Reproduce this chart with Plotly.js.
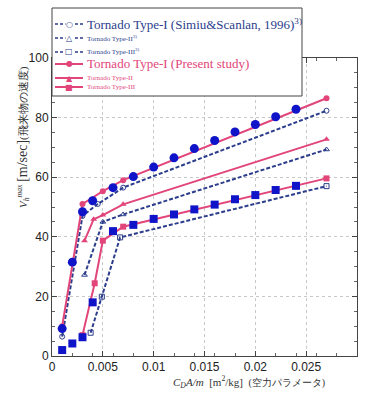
<!DOCTYPE html>
<html><head><meta charset="utf-8">
<script src="https://cdn.plot.ly/plotly-3.0.1.min.js"></script>
<style>html,body{margin:0;padding:0;background:#fff}</style>
</head><body><div id="chart" style="width:369px;height:400px"></div>
<script>
// Simiu & Scanlan (1996) - dashed navy
const simiu1X = [0.001, 0.003, 0.0045, 0.007, 0.027];
const simiu1Y = [6.5, 47, 51, 56.5, 82.3];
const simiu2X = [0.0032, 0.005, 0.007, 0.027];
const simiu2Y = [27.2, 45, 47.5, 69.3];
const simiu3X = [0.0038, 0.0049, 0.0067, 0.027];
const simiu3Y = [7.8, 19.9, 39.8, 57.0];
// Present study - pink
const present1X = [0.001, 0.003, 0.005, 0.007, 0.027];
const present1Y = [10, 51, 55.3, 59, 86.5];
const present2X = [0.0032, 0.0041, 0.005, 0.007, 0.027];
const present2Y = [38.7, 45.9, 47.3, 50.9, 72.7];
const present3X = [0.003, 0.0042, 0.005, 0.007, 0.027];
const present3Y = [7, 24.4, 38.7, 43.4, 59.6];
// Blue marker data
const circX = [0.001,0.002,0.003,0.004,0.006,0.008,0.010,0.012,0.014,0.016,0.018,0.020,0.022,0.024];
const circY = [9.2,31.5,48.4,52.1,56.5,60.2,63.4,66.5,69.6,72.3,75.2,77.7,80.3,82.8];
const sqX = [0.001,0.002,0.003,0.004,0.006,0.008,0.010,0.012,0.014,0.016,0.018,0.020,0.022,0.024];
const sqY = [2.0,4.2,6.3,18.0,41.9,44.0,46.0,47.5,49.2,50.8,52.6,54.0,55.7,57.1];

// Legend labels
const legendNames = [
  'Tornado Type-I (Simiu&amp;Scanlan, 1996)<sup>3)</sup>',
  'Tornado Type-II<sup>3)</sup>',
  'Tornado Type-III<sup>3)</sup>',
  'Tornado Type-I (Present study)',
  'Tornado Type-II',
  'Tornado Type-III'
];
const legendSymbols = ['○', '△', '□', '●', '▲', '■'];
const xTicks = [0, 0.005, 0.01, 0.015, 0.02, 0.025, 0.03];
const xTickText = ['0','0.005','0.01','0.015','0.02','0.025','0.03'];
const yTicks = [0, 20, 40, 60, 80, 100];

const NAVY = '#2b3d8c', PINK = '#e2457a', BLUE = '#0f14c8';
const DASH = '4px,2px';

const traces = [
  {x: simiu1X, y: simiu1Y, mode: 'lines+markers',
   line: {color: NAVY, width: 2, dash: DASH}, marker: {symbol: 'circle-open', size: 5, color: NAVY}},
  {x: simiu2X, y: simiu2Y, mode: 'lines+markers',
   line: {color: NAVY, width: 2, dash: DASH}, marker: {symbol: 'triangle-up-open', size: 5, color: NAVY}},
  {x: simiu3X, y: simiu3Y, mode: 'lines+markers',
   line: {color: NAVY, width: 2, dash: DASH}, marker: {symbol: 'square-open', size: 5, color: NAVY}},
  {x: present1X, y: present1Y, mode: 'lines+markers',
   line: {color: PINK, width: 2}, marker: {symbol: 'circle', size: 6, color: PINK}},
  {x: present2X, y: present2Y, mode: 'lines+markers',
   line: {color: PINK, width: 2}, marker: {symbol: 'triangle-up', size: 6, color: PINK}},
  {x: present3X, y: present3Y, mode: 'lines+markers',
   line: {color: PINK, width: 2}, marker: {symbol: 'square', size: 6, color: PINK}},
  {x: circX, y: circY, mode: 'markers',
   marker: {symbol: 'circle', size: 9, color: BLUE}},
  {x: sqX, y: sqY, mode: 'markers',
   marker: {symbol: 'square', size: 8, color: BLUE}}
];
traces.forEach((t, i) => { t.name = legendNames[i] || ''; t.showlegend = false; });

// legend box built in paper coordinates
const L = 52, T = 58, W = 305, H = 298;
const px = p => (p - L) / W;
const py = p => (T + H - p) / H;
const rowY = [24, 38, 52, 64, 78, 87];
const rowSize = [13, 7, 7, 13, 7, 7];
const shapes = [
  {type: 'rect', xref: 'paper', yref: 'paper', x0: px(52), x1: px(302), y0: py(96), y1: py(8),
   line: {color: '#444', width: 1}, fillcolor: '#fff', layer: 'above'}
];
const annotations = [];
for (let i = 0; i < 6; i++) {
  const col = i < 3 ? NAVY : PINK;
  shapes.push({type: 'line', xref: 'paper', yref: 'paper', x0: px(55), x1: px(83),
    y0: py(rowY[i]), y1: py(rowY[i]), layer: 'above',
    line: {color: col, width: i < 3 ? 1.5 : 2, dash: i < 3 ? '3px,2px' : 'solid'}});
  annotations.push({text: legendSymbols[i], xref: 'paper', yref: 'paper', x: px(69), y: py(rowY[i]),
    xanchor: 'center', yanchor: 'middle', showarrow: false, bgcolor: i < 3 ? '#fff' : 'rgba(0,0,0,0)',
    borderpad: 0,
    font: {family: 'DejaVu Sans', size: 8, color: col}});
  annotations.push({text: legendNames[i], xref: 'paper', yref: 'paper', x: px(85), y: py(rowY[i]),
    xanchor: 'left', yanchor: 'middle', showarrow: false,
    font: {family: 'Liberation Serif, Times New Roman, serif', size: rowSize[i], color: col}});
}
annotations.push(
  {text: '<i>V</i><sub><i>h</i></sub><sup><i>max</i></sup> <span style="font-size:14px">[m/sec]</span>(飛来物の速度)',
   xref: 'paper', yref: 'paper', x: px(23), y: py(137), xanchor: 'center', yanchor: 'middle',
   textangle: -90, showarrow: false,
   font: {family: 'Liberation Serif, serif', size: 11, color: '#333'}},
  {text: '<i>C<sub>D</sub>A/m</i>  [m<sup>2</sup>/kg]  <span style="font-size:10px">(空力パラメータ)</span>',
   xref: 'paper', yref: 'paper', x: px(249), y: py(382), xanchor: 'center', yanchor: 'middle',
   showarrow: false,
   font: {family: 'Liberation Serif, serif', size: 11, color: '#333'}}
);

const axisCommon = {
  showline: true, linecolor: '#444', linewidth: 1, mirror: 'allticks',
  ticks: 'inside', ticklen: 5, tickcolor: '#444',
  showgrid: true, gridcolor: '#c8c8c8', griddash: 'dot', gridwidth: 1,
  zeroline: false,
  tickfont: {family: 'Liberation Sans, Arial, sans-serif', size: 12, color: '#222'},
  minor: {ticks: 'inside', ticklen: 3, tickcolor: '#666', nticks: 5, showgrid: false}
};

const layout = {
  width: 369, height: 400,
  margin: {l: L, r: 369 - L - W, t: T, b: 400 - T - H},
  paper_bgcolor: '#fff', plot_bgcolor: '#fff',
  showlegend: false,
  xaxis: Object.assign({}, axisCommon, {range: [0, 0.03], tickvals: xTicks, ticktext: xTickText}),
  yaxis: Object.assign({}, axisCommon, {range: [0, 100], tickvals: yTicks}),
  shapes: shapes,
  annotations: annotations
};

Plotly.newPlot('chart', traces, layout, {displayModeBar: false, staticPlot: true});
</script></body></html>
